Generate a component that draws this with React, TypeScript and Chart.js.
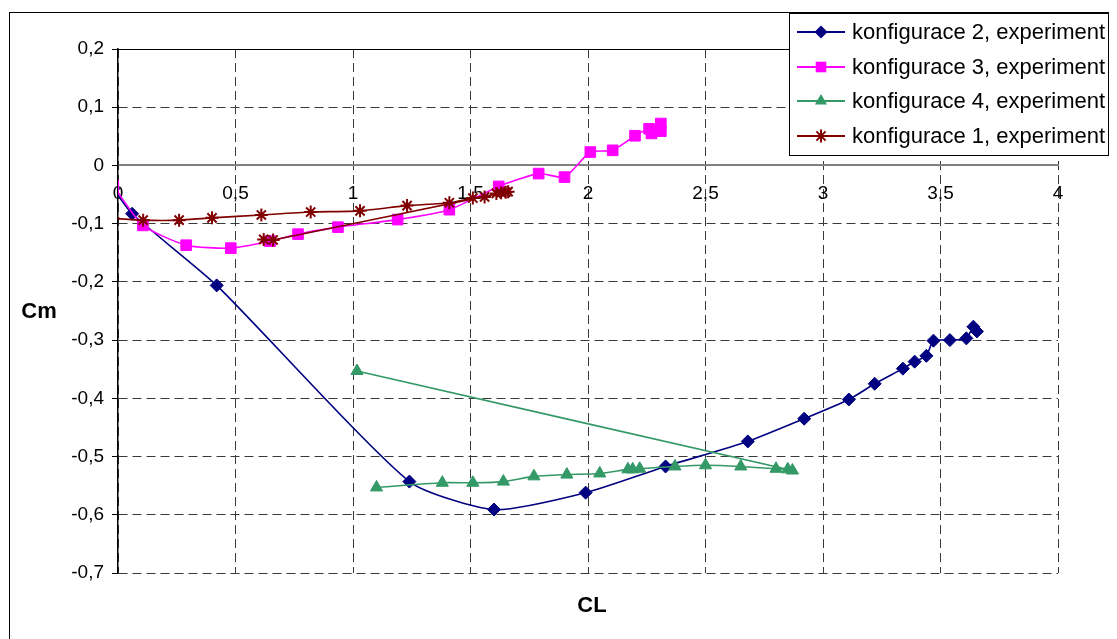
import React, { useEffect, useRef } from 'react';
import { Chart, registerables } from 'chart.js';

Chart.register(...registerables);

// ---- data ----
const seriesLabels = [
  'konfigurace 2, experiment',
  'konfigurace 3, experiment',
  'konfigurace 4, experiment',
  'konfigurace 1, experiment',
];

const config2CL = [-0.02, 0.06, 0.42, 1.24, 1.6, 1.99, 2.33, 2.68, 2.92, 3.11, 3.22, 3.34, 3.39, 3.44, 3.47, 3.54, 3.61, 3.64, 3.655];
const config2Cm = [-0.04, -0.083, -0.206, -0.543, -0.591, -0.562, -0.517, -0.474, -0.435, -0.402, -0.375, -0.349, -0.337, -0.327, -0.301, -0.3, -0.297, -0.277, -0.285];

const config3CL = [-0.02, 0.106, 0.29, 0.48, 0.647, 0.766, 0.936, 1.19, 1.41, 1.62, 1.79, 1.9, 2.01, 2.105, 2.2, 2.26, 2.27, 2.31, 2.31];
const config3Cm = [-0.035, -0.103, -0.137, -0.142, -0.13, -0.118, -0.106, -0.093, -0.076, -0.036, -0.014, -0.02, 0.023, 0.026, 0.051, 0.063, 0.055, 0.072, 0.059];

const config4CL = [1.1, 1.38, 1.51, 1.64, 1.77, 1.91, 2.05, 2.17, 2.19, 2.22, 2.37, 2.5, 2.65, 2.8, 2.85, 2.87, 1.017];
const config4Cm = [-0.553, -0.545, -0.545, -0.543, -0.534, -0.531, -0.529, -0.522, -0.522, -0.521, -0.517, -0.515, -0.517, -0.521, -0.522, -0.524, -0.353];

const config1CL = [-0.02, 0.107, 0.26, 0.4, 0.61, 0.82, 1.03, 1.23, 1.41, 1.51, 1.56, 1.61, 1.63, 1.65, 1.66, 0.66, 0.62];
const config1Cm = [-0.091, -0.094, -0.094, -0.09, -0.085, -0.08, -0.078, -0.069, -0.064, -0.056, -0.054, -0.048, -0.047, -0.046, -0.045, -0.128, -0.127];

const xMin = 0, xMax = 4, xStep = 0.5;
const yMin = -0.7, yMax = 0.2, yStep = 0.1;
const xTitle = 'CL';
const yTitle = 'Cm';

const FONT = "'Liberation Sans', Arial, Helvetica, sans-serif";

const colors = ['#000080', '#FF00FF', '#339966', '#800000'];
const markers = ['rectRot', 'rect', 'triangle', 'star'];
const markerRadius = [6.5, 7.5, 7, 6.5];

function fmt(v: number): string {
  const r = Math.round(v * 100) / 100;
  if (Math.abs(r) < 1e-9) return '0';
  return String(r).replace('.', ',');
}

function pts(xs: number[], ys: number[]) {
  return xs.map((x, i) => ({ x, y: ys[i] }));
}

function drawMarker(ctx: CanvasRenderingContext2D, style: string, x: number, y: number, r: number, color: string) {
  ctx.save();
  ctx.fillStyle = color;
  ctx.strokeStyle = color;
  ctx.lineWidth = 2;
  ctx.setLineDash([]);
  ctx.beginPath();
  if (style === 'rectRot') {
    ctx.moveTo(x - r, y); ctx.lineTo(x, y - r); ctx.lineTo(x + r, y); ctx.lineTo(x, y + r); ctx.closePath();
    ctx.fill();
  } else if (style === 'rect') {
    const s = Math.SQRT1_2 * r;
    ctx.rect(x - s, y - s, 2 * s, 2 * s);
    ctx.fill();
  } else if (style === 'triangle') {
    const a = (2 * Math.PI) / 3;
    ctx.moveTo(x, y - r);
    ctx.lineTo(x + Math.sin(a) * r, y - Math.cos(a) * r);
    ctx.lineTo(x + Math.sin(2 * a) * r, y - Math.cos(2 * a) * r);
    ctx.closePath();
    ctx.fill();
  } else {
    const d = r * Math.SQRT1_2;
    ctx.moveTo(x - r, y); ctx.lineTo(x + r, y);
    ctx.moveTo(x, y - r); ctx.lineTo(x, y + r);
    ctx.moveTo(x - d, y - d); ctx.lineTo(x + d, y + d);
    ctx.moveTo(x - d, y + d); ctx.lineTo(x + d, y - d);
    ctx.stroke();
  }
  ctx.restore();
}

const decoPlugin = {
  id: 'deco',
  beforeDraw(chart: any) {
    const ctx = chart.ctx;
    ctx.save();
    ctx.fillStyle = '#ffffff';
    ctx.fillRect(0, 0, chart.width, chart.height);
    ctx.restore();
  },
  afterDraw(chart: any) {
    const ctx: CanvasRenderingContext2D = chart.ctx;
    const { left, right, top } = chart.chartArea;
    ctx.save();
    // top plot border
    ctx.strokeStyle = '#000';
    ctx.lineWidth = 1;
    ctx.beginPath();
    ctx.moveTo(left, Math.round(top) + 0.5);
    ctx.lineTo(right, Math.round(top) + 0.5);
    ctx.stroke();
    // outer frame
    ctx.strokeRect(1.5, 4.5, 1106, 700);

    // axis titles
    ctx.fillStyle = '#000';
    ctx.font = `bold 22px ${FONT}`;
    ctx.textAlign = 'center';
    ctx.textBaseline = 'middle';
    ctx.fillText(yTitle, 31, 304);
    ctx.fillText(xTitle, 584, 598);

    // legend
    const lx = 781, ly = 5, lw = 319, lh = 142;
    ctx.fillStyle = '#fff';
    ctx.fillRect(lx, ly, lw, lh);
    ctx.strokeStyle = '#000';
    ctx.lineWidth = 1;
    ctx.strokeRect(lx + 0.5, ly + 0.5, lw, lh);
    const rows = [24, 59, 93, 128];
    ctx.font = `22px ${FONT}`;
    ctx.textAlign = 'left';
    ctx.textBaseline = 'middle';
    rows.forEach((ry, i) => {
      ctx.strokeStyle = colors[i];
      ctx.lineWidth = 2;
      ctx.beginPath();
      ctx.moveTo(789, ry);
      ctx.lineTo(837, ry);
      ctx.stroke();
      drawMarker(ctx, markers[i], 813, ry, markerRadius[i], colors[i]);
      ctx.fillStyle = '#000';
      ctx.fillText(seriesLabels[i], 844, ry + 1);
    });
    ctx.restore();
  },
};

export default function App() {
  const ref = useRef<HTMLCanvasElement>(null);
  useEffect(() => {
    document.documentElement.style.overflow = 'hidden';
    if (!ref.current) return;
    const series = [
      pts(config2CL, config2Cm),
      pts(config3CL, config3Cm),
      pts(config4CL, config4Cm),
      pts(config1CL, config1Cm),
    ];
    const order = [3, 2, 1, 0];
    const chart = new Chart(ref.current, {
      type: 'scatter',
      data: {
        datasets: series.map((d, i) => ({
          label: seriesLabels[i],
          data: d,
          showLine: true,
          tension: 0.2,
          borderColor: colors[i],
          backgroundColor: colors[i],
          borderWidth: 1.6,
          pointStyle: markers[i] as any,
          pointRadius: markerRadius[i],
          pointBorderWidth: i === 3 ? 2 : 1,
          pointBorderColor: colors[i],
          pointBackgroundColor: colors[i],
          order: order[i],
        })),
      },
      options: {
        responsive: false,
        devicePixelRatio: 1,
        animation: false,
        layout: { padding: { top: 41, right: 59, bottom: 66, left: 0 } },
        plugins: {
          legend: { display: false },
          tooltip: { enabled: false },
        },
        scales: {
          x: {
            type: 'linear',
            position: { y: 0 } as any,
            min: xMin,
            max: xMax,
            ticks: {
              stepSize: xStep,
              color: '#000',
              font: { family: FONT, size: 19 },
              padding: 17,
              maxRotation: 0,
              callback: (v: any) => fmt(Number(v)),
            },
            grid: { color: '#3a3a3a', lineWidth: 1, drawTicks: false },
            border: { display: true, color: '#808080', width: 2, dash: [9, 5] },
          },
          y: {
            type: 'linear',
            position: 'left',
            min: yMin,
            max: yMax,
            afterFit: (scale: any) => { scale.width = 110; },
            ticks: {
              stepSize: yStep,
              color: '#000',
              font: { family: FONT, size: 19 },
              padding: 8,
              callback: (v: any) => fmt(Number(v)),
            },
            grid: { color: '#3a3a3a', lineWidth: 1, tickLength: 6, tickColor: '#000', drawTicks: true },
            border: { display: true, color: '#000', width: 1.5, dash: [9, 5] },
          },
        },
      },
      plugins: [decoPlugin],
    });
    return () => chart.destroy();
  }, []);
  return <canvas ref={ref} width={1109} height={631} style={{ display: 'block' }} />;
}
